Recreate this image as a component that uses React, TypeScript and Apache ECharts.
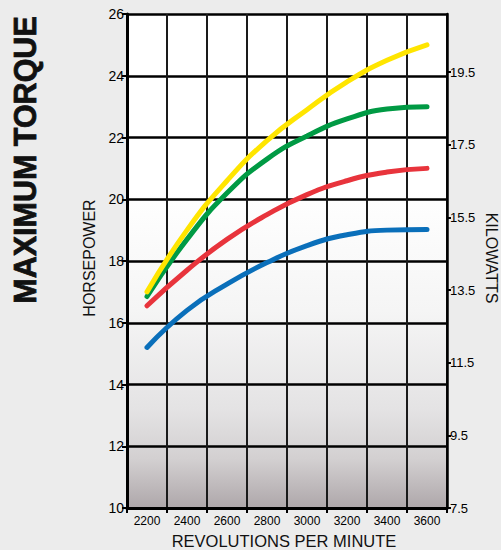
import React, { useEffect, useRef } from "react";
import * as echarts from "echarts";

const rpm = ["2200", "2400", "2600", "2800", "3000", "3200", "3400", "3600"];
const yellowHp = [17.0, 19.0, 20.6, 21.9, 22.9, 23.8, 24.5, 25.0];
const greenHp = [16.85, 18.7, 20.2, 21.3, 22.05, 22.6, 22.92, 23.0];
const redHp = [16.55, 17.7, 18.7, 19.5, 20.15, 20.6, 20.88, 21.0];
const blueHp = [15.2, 16.4, 17.25, 17.95, 18.5, 18.85, 19.0, 19.02];
const hpTicks = [10, 12, 14, 16, 18, 20, 22, 24, 26];
const kwTicks = [7.5, 9.5, 11.5, 13.5, 15.5, 17.5, 19.5];
const hpMin = 10;
const hpMax = 26;
const kwMin = 7.5;
const kwMax = 21.1;

const FONT = '"Liberation Sans", Arial, Helvetica, sans-serif';

export default function App() {
  const ref = useRef<HTMLDivElement>(null);
  useEffect(() => {
    document.body.style.margin = "0";
    document.body.style.background = "#ececec";
    const chart = echarts.init(ref.current!, null, { renderer: "svg" });
    const line = (name: string, data: number[], color: string) => ({
      name,
      type: "line",
      data,
      smooth: 0.5,
      symbol: "none",
      lineStyle: { color, width: 5, cap: "round" },
      yAxisIndex: 1,
    });
    chart.setOption({
      animation: false,
      backgroundColor: "#ececec",
      textStyle: { fontFamily: FONT },
      grid: {
        left: 127,
        top: 14,
        width: 320,
        height: 494,
        show: true,
        borderWidth: 0,
        backgroundColor: new echarts.graphic.LinearGradient(0, 0, 0, 1, [
          { offset: 0, color: "#ffffff" },
          { offset: 0.36, color: "#ffffff" },
          { offset: 0.6, color: "#f5f5f5" },
          { offset: 0.8, color: "#e4e3e4" },
          { offset: 0.9, color: "#d3d0d1" },
          { offset: 1, color: "#aea7aa" },
        ]),
      },
      xAxis: {
        type: "category",
        data: rpm,
        boundaryGap: true,
        axisLine: { show: true, lineStyle: { color: "#000", width: 3 } },
        axisTick: { show: true, length: 5, inside: false, lineStyle: { color: "#000", width: 2 } },
        axisLabel: { color: "#000", fontSize: 12, margin: 7, fontFamily: FONT },
        splitLine: { show: true, lineStyle: { color: "#1a1a1a", width: 2 } },
      },
      yAxis: [
        {
          type: "value",
          min: kwMin,
          max: kwMax,
          position: "right",
          axisLine: { show: true, lineStyle: { color: "#000", width: 2.5 } },
          axisTick: {
            show: true,
            length: 4,
            customValues: kwTicks,
            lineStyle: { color: "#000", width: 2 },
          },
          axisLabel: {
            color: "#000",
            fontSize: 13,
            margin: 3,
            fontFamily: FONT,
            customValues: kwTicks,
            formatter: (v: number) => v.toFixed(1),
          },
          splitLine: { show: false },
        },
        {
          type: "value",
          min: hpMin,
          max: hpMax,
          interval: 2,
          position: "left",
          axisLine: { show: true, lineStyle: { color: "#000", width: 3 } },
          axisTick: { show: true, length: 5, customValues: hpTicks, lineStyle: { color: "#000", width: 2 } },
          axisLabel: { color: "#000", fontSize: 14, margin: 3, fontFamily: FONT, customValues: hpTicks },
          splitLine: { show: true, lineStyle: { color: "#000", width: 2.5 } },
        },
      ],
      series: [
        line("blue", blueHp, "#0a6fba"),
        line("red", redHp, "#e8343c"),
        line("green", greenHp, "#009a44"),
        line("yellow", yellowHp, "#ffe500"),
      ],
      graphic: [
        {
          type: "text",
          x: 25,
          y: 160,
          rotation: Math.PI / 2,
          style: {
            text: "MAXIMUM TORQUE",
            font: `bold 30.5px ${FONT}`,
            fill: "#111",
            stroke: "#111",
            lineWidth: 0.8,
            align: "center",
            verticalAlign: "middle",
          },
        },
        {
          type: "text",
          x: 89.5,
          y: 258,
          rotation: Math.PI / 2,
          style: {
            text: "HORSEPOWER",
            font: `16px ${FONT}`,
            fill: "#111",
            align: "center",
            verticalAlign: "middle",
          },
        },
        {
          type: "text",
          x: 491,
          y: 258,
          rotation: -Math.PI / 2,
          style: {
            text: "KILOWATTS",
            font: `16px ${FONT}`,
            fill: "#111",
            align: "center",
            verticalAlign: "middle",
          },
        },
        {
          type: "text",
          x: 284,
          y: 541,
          style: {
            text: "REVOLUTIONS PER MINUTE",
            font: `16.5px ${FONT}`,
            fill: "#111",
            align: "center",
            verticalAlign: "middle",
          },
        },
      ],
    });
    return () => chart.dispose();
  }, []);
  return (
    <div
      ref={ref}
      style={{ position: "fixed", left: 0, top: 0, width: 501, height: 550, background: "#ececec" }}
    />
  );
}
